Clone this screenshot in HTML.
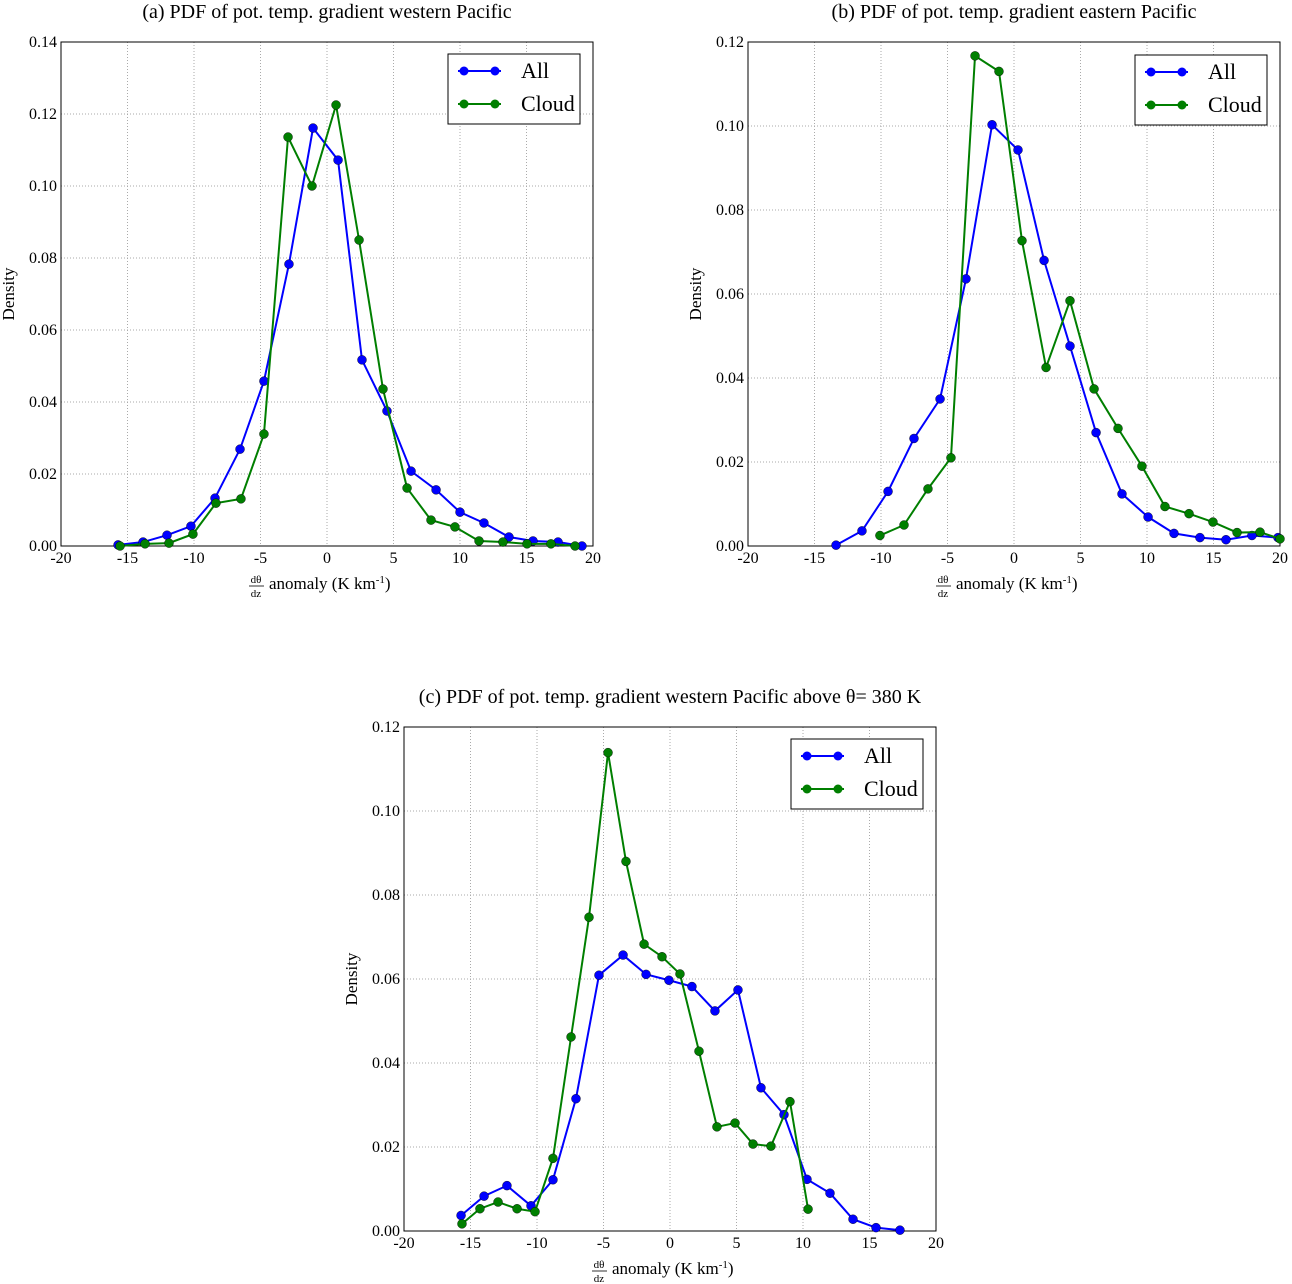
<!DOCTYPE html>
<html><head><meta charset="utf-8"><style>
body{margin:0;background:#fff;}
svg{display:block;font-family:"Liberation Serif",serif;}
</style></head><body>
<svg id="fig" width="1292" height="1284" viewBox="0 0 1292 1284" xmlns="http://www.w3.org/2000/svg"></svg>
<script>
const aAllX=[-15.71,-13.83,-12.03,-10.23,-8.42,-6.54,-4.74,-2.86,-1.05,0.83,2.63,4.51,6.32,8.2,10,11.8,13.68,15.49,17.37,19.17];
const aAllY=[0.0003,0.0011,0.003,0.0055,0.0133,0.0269,0.0458,0.0783,0.1161,0.1072,0.0517,0.0375,0.0208,0.0156,0.0094,0.0064,0.0025,0.0014,0.0011,0];
const aCldX=[-15.56,-13.68,-11.88,-10.08,-8.35,-6.47,-4.74,-2.93,-1.13,0.68,2.41,4.21,6.02,7.82,9.62,11.43,13.23,15.04,16.84,18.65];
const aCldY=[0,0.0006,0.0008,0.0033,0.0119,0.0131,0.0311,0.1136,0.1,0.1225,0.085,0.0436,0.0161,0.0072,0.0053,0.0014,0.0011,0.0006,0.0006,0];
const bAllX=[-13.38,-11.43,-9.47,-7.52,-5.56,-3.61,-1.65,0.3,2.26,4.21,6.17,8.12,10.08,12.03,13.98,15.94,17.89,19.85];
const bAllY=[0.0002,0.0036,0.013,0.0256,0.035,0.0636,0.1003,0.0943,0.068,0.0476,0.027,0.0124,0.0069,0.003,0.002,0.0015,0.0025,0.002];
const bCldX=[-10.08,-8.27,-6.47,-4.74,-2.93,-1.13,0.6,2.41,4.21,6.02,7.82,9.62,11.35,13.16,14.96,16.77,18.5,20];
const bCldY=[0.0025,0.005,0.0136,0.021,0.1167,0.113,0.0727,0.0425,0.0584,0.0374,0.028,0.019,0.0094,0.0077,0.0057,0.0032,0.0033,0.0017];
const cAllX=[-15.71,-13.98,-12.26,-10.45,-8.8,-7.07,-5.34,-3.53,-1.8,-0.08,1.65,3.38,5.11,6.84,8.57,10.3,12.03,13.76,15.49,17.29];
const cAllY=[0.0037,0.0083,0.0108,0.006,0.0122,0.0315,0.0609,0.0657,0.0611,0.0597,0.0582,0.0524,0.0574,0.0341,0.0277,0.0123,0.009,0.0028,0.0008,0.0002];
const cCldX=[-15.64,-14.29,-12.93,-11.5,-10.15,-8.8,-7.44,-6.09,-4.66,-3.31,-1.95,-0.6,0.75,2.18,3.53,4.89,6.24,7.59,9.02,10.38];
const cCldY=[0.0017,0.0053,0.0069,0.0053,0.0046,0.0173,0.0462,0.0747,0.1139,0.088,0.0683,0.0653,0.0612,0.0428,0.0248,0.0257,0.0207,0.0202,0.0308,0.0052];
const xTicks=[-20,-15,-10,-5,0,5,10,15,20];
const xTickLabels=["-20","-15","-10","-5","0","5","10","15","20"];
const yTicksA=[0,0.02,0.04,0.06,0.08,0.1,0.12,0.14];
const yTicksB=[0,0.02,0.04,0.06,0.08,0.1,0.12];

const NS="http://www.w3.org/2000/svg";
const svg=document.getElementById('fig');
function mk(tag,attrs,parent,text){const e=document.createElementNS(NS,tag);for(const k in attrs)e.setAttribute(k,attrs[k]);if(text!==undefined)e.textContent=text;(parent||svg).appendChild(e);return e;}

function panel(id,L,T,W,H,ymax,yTicks,title,series,leg,densX){
  const g=mk('g',{});
  
  
  const sx=v=>L+(v+20)/40*W, sy=v=>T+H-v/ymax*H;
  xTicks.forEach((t,i)=>{
    const x=sx(t);
    if(i>0&&i<xTicks.length-1){const gl=mk('line',{x1:x,y1:T,x2:x,y2:T+H,stroke:'#aaa','stroke-width':1,'stroke-dasharray':'1,2'},g);}
    const tl=mk('text',{x:x,y:T+H+17,'text-anchor':'middle','font-size':16},g,xTickLabels[i]);
    
    
  });
  yTicks.forEach(t=>{
    const y=sy(t);
    if(t>0&&t<ymax-1e-9){const gl=mk('line',{x1:L,y1:y,x2:L+W,y2:y,stroke:'#aaa','stroke-width':1,'stroke-dasharray':'1,2'},g);}
    const tl=mk('text',{x:L-4,y:y+5,'text-anchor':'end','font-size':16},g,t.toFixed(2));
    
    
  });
  const fr=mk('rect',{x:L,y:T,width:W,height:H,fill:'none',stroke:'#000','stroke-width':1},g);
  
  
  const tt=mk('text',{x:L+W/2,y:T-24,'text-anchor':'middle','font-size':20},g,title);
  
  
  const yl=mk('text',{x:densX,y:T+H/2,'text-anchor':'middle','font-size':17,transform:`rotate(-90 ${densX} ${T+H/2})`},g,'Density');
  
  
  const xl=mk('g',{},g);
  
  
  const cx=L+W/2-78, by=T+H+42;
  mk('text',{x:cx+7,y:by-5,'text-anchor':'middle','font-size':11,'font-style':'normal'},xl,'dθ');
  mk('line',{x1:cx,y1:by-2,x2:cx+15,y2:by-2,stroke:'#000','stroke-width':0.8},xl);
  mk('text',{x:cx+7,y:by+9,'text-anchor':'middle','font-size':11},xl,'dz');
  const t2=mk('text',{x:cx+20,y:by+1,'font-size':17},xl,'anomaly (K km');
  mk('tspan',{dy:-6,'font-size':11},t2,'-1');
  mk('tspan',{dy:6,'font-size':17},t2,')');
  series.forEach(s=>{
    const sg=mk('g',{},g);
    
    
    const pts=s.x.map((v,i)=>sx(v)+','+sy(s.y[i])).join(' ');
    mk('polyline',{points:pts,fill:'none',stroke:s.c,'stroke-width':2},sg);
    s.x.forEach((v,i)=>{
      const p=mk('circle',{cx:sx(v),cy:sy(s.y[i]),r:4.5,fill:s.c,stroke:'#000','stroke-width':0.4},sg);
      
      
    });
  });
  const lg=mk('g',{},g);
  
  
  mk('rect',{x:leg[0],y:leg[1],width:132,height:70,fill:'#fff',stroke:'#000','stroke-width':1},lg);
  series.forEach((s,i)=>{
    const y=leg[1]+17+i*33;
    const e=mk('g',{},lg);
    
    
    mk('line',{x1:leg[0]+10,y1:y,x2:leg[0]+53,y2:y,stroke:s.c,'stroke-width':2},e);
    mk('circle',{cx:leg[0]+16,cy:y,r:4.5,fill:s.c},e);
    mk('circle',{cx:leg[0]+47,cy:y,r:4.5,fill:s.c},e);
    mk('text',{x:leg[0]+73,y:y+7,'font-size':22},e,s.label);
  });
}
panel('a',61,42,532,504,0.14,yTicksA,'(a) PDF of pot. temp. gradient western Pacific',
  [{name:'all',label:'All',c:'#0000ff',x:aAllX,y:aAllY},{name:'cloud',label:'Cloud',c:'#007f00',x:aCldX,y:aCldY}],[448,54],14);
panel('b',748,42,532,504,0.12,yTicksB,'(b) PDF of pot. temp. gradient eastern Pacific',
  [{name:'all',label:'All',c:'#0000ff',x:bAllX,y:bAllY},{name:'cloud',label:'Cloud',c:'#007f00',x:bCldX,y:bCldY}],[1135,55],701);
panel('c',404,727,532,504,0.12,yTicksB,'(c) PDF of pot. temp. gradient western Pacific above θ= 380 K',
  [{name:'all',label:'All',c:'#0000ff',x:cAllX,y:cAllY},{name:'cloud',label:'Cloud',c:'#007f00',x:cCldX,y:cCldY}],[791,739],357);
</script>
</body></html>
